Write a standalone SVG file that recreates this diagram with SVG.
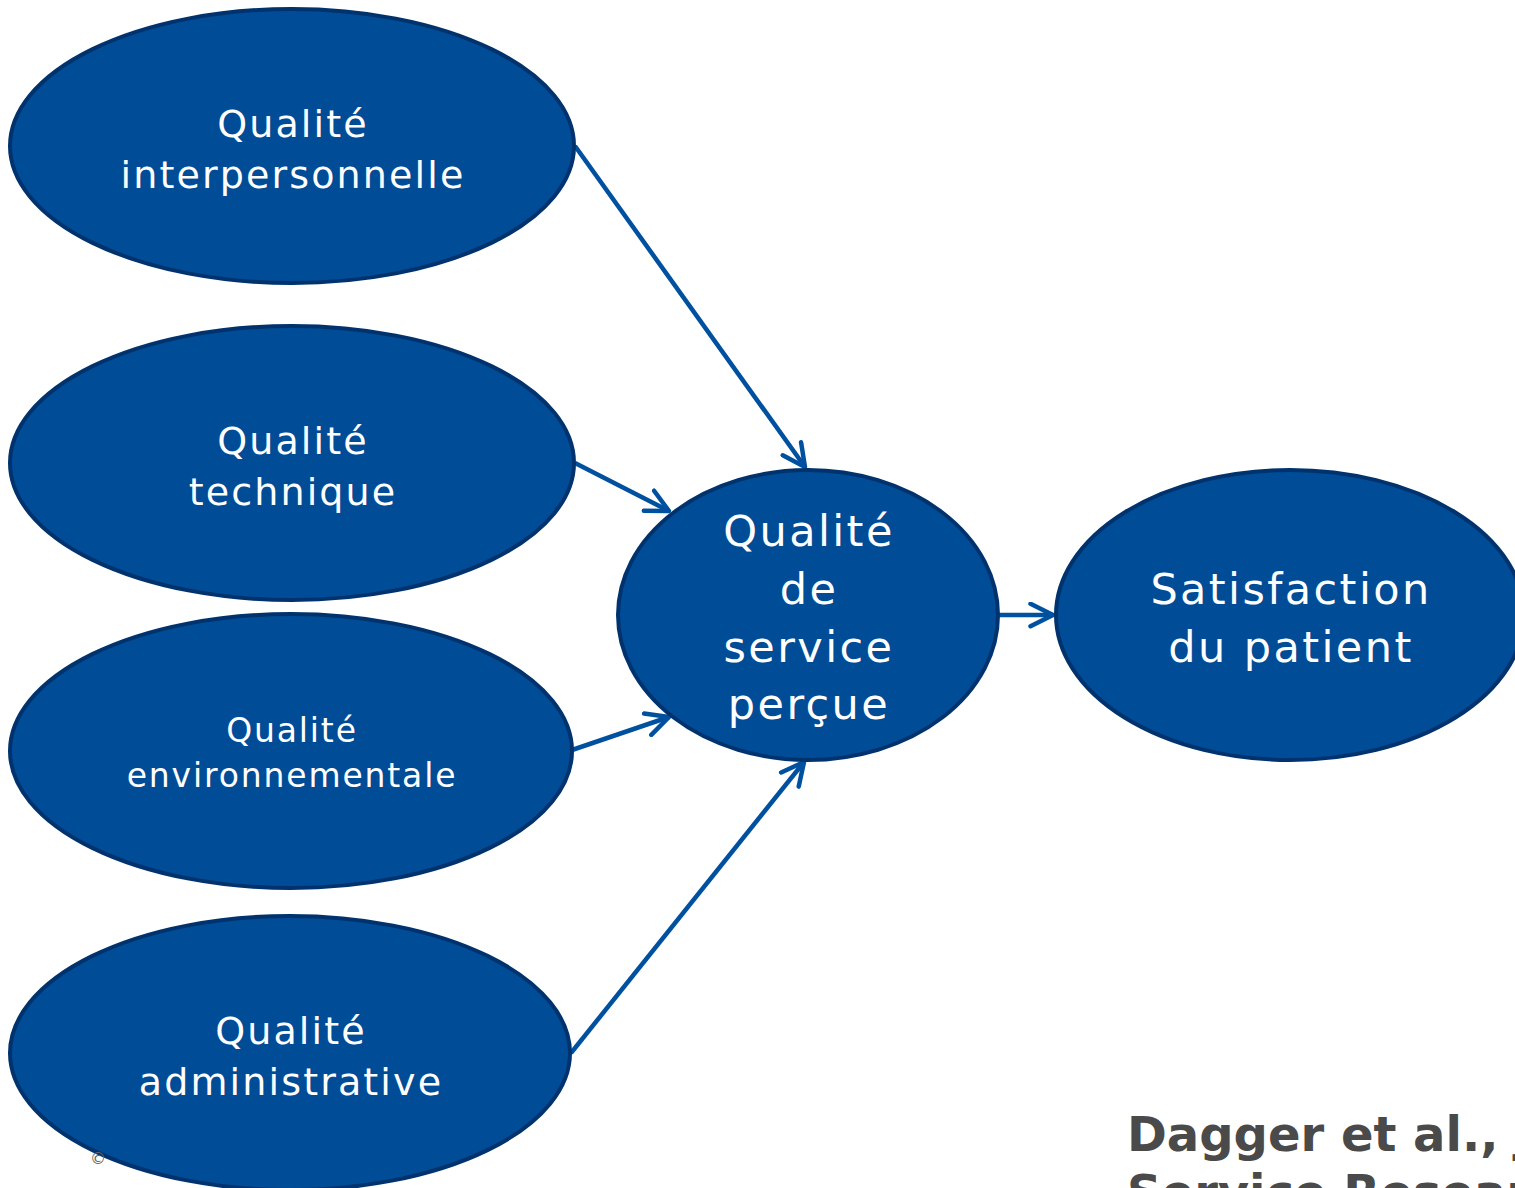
<svg xmlns="http://www.w3.org/2000/svg" width="1515" height="1188" viewBox="0 0 1515 1188">
  <defs>
    <marker id="chev" viewBox="0 0 12 12" refX="11" refY="6" markerWidth="6" markerHeight="6" markerUnits="strokeWidth" orient="auto">
      <path d="M1,1 L11,6 L1,11" fill="none" stroke="#0050A0" stroke-width="2" stroke-linecap="round" stroke-linejoin="round"/>
    </marker>
    <style>
      .node { fill: #004C97; stroke: #00336E; stroke-width: 4; }
      .lbl { fill: #ffffff; font-family: "DejaVu Sans", Verdana, sans-serif; text-anchor: middle; letter-spacing: 0.056em; }
      .edge { fill: none; stroke: #0050A0; stroke-width: 4.5; marker-end: url(#chev); }
      .cite { fill: #4a4a4a; font-family: "DejaVu Sans", Verdana, sans-serif; font-weight: bold; font-size: 48px; }
    </style>
  </defs>

  <!-- connectors -->
  <g id="edges">
    <line class="edge" x1="575" y1="146" x2="805" y2="467"/>
    <line class="edge" x1="575" y1="463" x2="669" y2="511"/>
    <line class="edge" x1="572" y1="750" x2="669" y2="717"/>
    <line class="edge" x1="571" y1="1053" x2="804" y2="762"/>
    <line class="edge" x1="998" y1="615" x2="1053" y2="615"/>
  </g>

  <g id="n-interpersonnelle">
    <ellipse class="node" cx="292" cy="146" rx="282" ry="137"/>
    <text class="lbl" font-size="38" x="293" y="137">Qualité</text>
    <text class="lbl" font-size="38" x="293" y="188">interpersonnelle</text>
  </g>

  <g id="n-technique">
    <ellipse class="node" cx="292" cy="463" rx="282" ry="137"/>
    <text class="lbl" font-size="38" x="293" y="454">Qualité</text>
    <text class="lbl" font-size="38" x="293" y="505">technique</text>
  </g>

  <g id="n-environnementale">
    <ellipse class="node" cx="291" cy="751" rx="281" ry="137"/>
    <text class="lbl" font-size="33" x="292" y="742">Qualité</text>
    <text class="lbl" font-size="33" x="292" y="787">environnementale</text>
  </g>

  <g id="n-administrative">
    <ellipse class="node" cx="290" cy="1053" rx="280" ry="137"/>
    <text class="lbl" font-size="38" x="291" y="1044">Qualité</text>
    <text class="lbl" font-size="38" x="291" y="1095">administrative</text>
  </g>

  <g id="n-percue">
    <ellipse class="node" cx="808" cy="615" rx="190" ry="145"/>
    <text class="lbl" font-size="43" x="809" y="546">Qualité</text>
    <text class="lbl" font-size="43" x="809" y="604">de</text>
    <text class="lbl" font-size="43" x="809" y="662">service</text>
    <text class="lbl" font-size="43" x="809" y="719">perçue</text>
  </g>

  <g id="n-satisfaction">
    <ellipse class="node" cx="1290" cy="615" rx="234" ry="145"/>
    <text class="lbl" font-size="43" x="1291" y="604">Satisfaction</text>
    <text class="lbl" font-size="43" x="1291" y="662">du patient</text>
  </g>

  <!-- reference note, runs past the right and bottom edges -->
  <text class="cite" x="1127" y="1151">Dagger et al., Journal of</text>
  <text class="cite" x="1127" y="1209">Service Research</text>

  <text x="98" y="1164" font-family="DejaVu Sans, sans-serif" font-size="16" fill="#666666" text-anchor="middle">©</text>
</svg>
